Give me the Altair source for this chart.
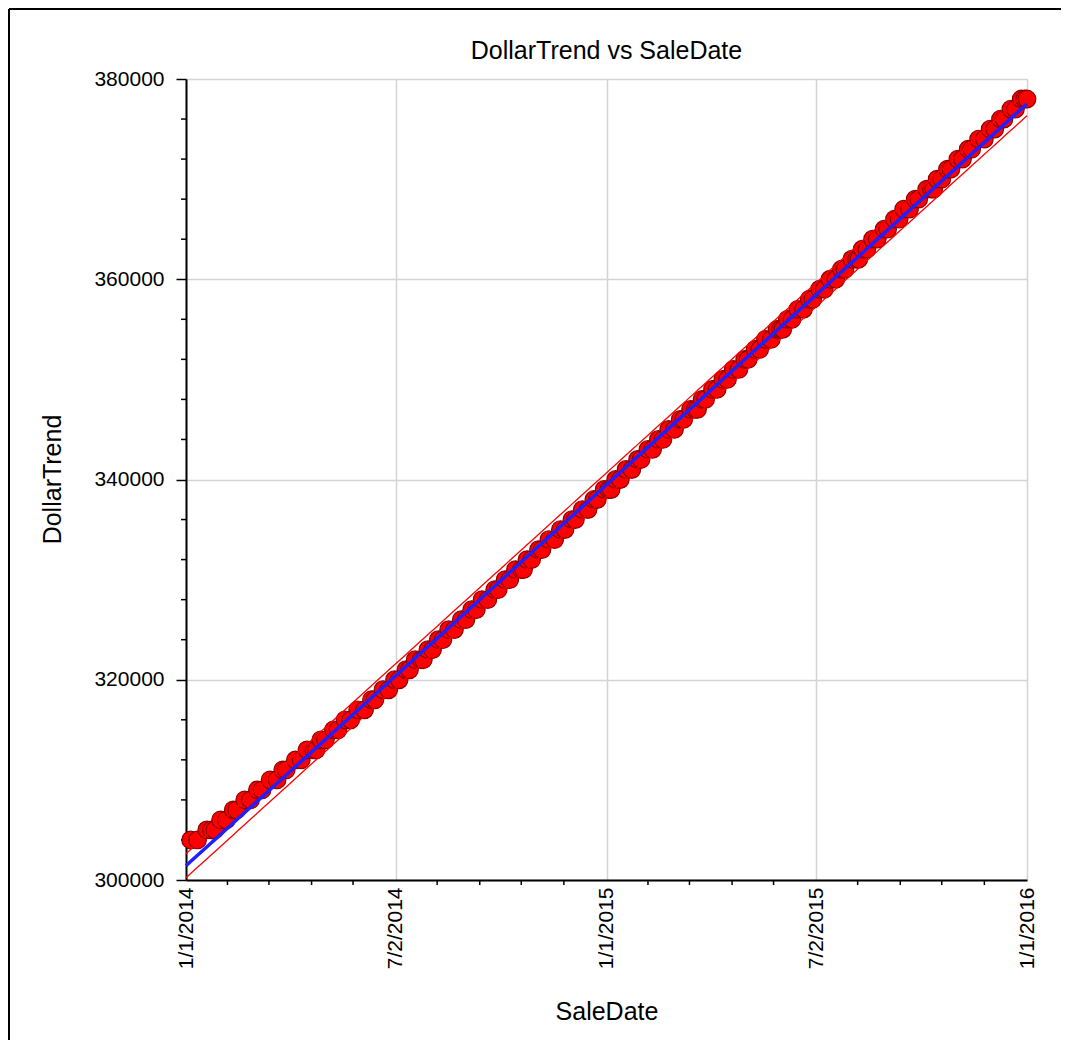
import altair as alt
import numpy as np
import pandas as pd

# ---- data ----
sale_dates = [
    "2014-01-05", "2014-01-11",
    "2014-01-19", "2014-01-23", "2014-01-26",
    "2014-01-31", "2014-02-05",
    "2014-02-11", "2014-02-14",
    "2014-02-21", "2014-02-26",
    "2014-03-04", "2014-03-08",
    "2014-03-15", "2014-03-21",
    "2014-03-26", "2014-03-29",
    "2014-04-06", "2014-04-11",
    "2014-04-16", "2014-04-22", "2014-04-24",
    "2014-04-28", "2014-05-02",
    "2014-05-09", "2014-05-13",
    "2014-05-19", "2014-05-24",
    "2014-05-30", "2014-06-05",
    "2014-06-11", "2014-06-14",
    "2014-06-21", "2014-06-26",
    "2014-07-01", "2014-07-05",
    "2014-07-11", "2014-07-14",
    "2014-07-19", "2014-07-24", "2014-07-26",
    "2014-07-30", "2014-08-03",
    "2014-08-08", "2014-08-12",
    "2014-08-17", "2014-08-22",
    "2014-08-28", "2014-09-01",
    "2014-09-06", "2014-09-10",
    "2014-09-15", "2014-09-20",
    "2014-09-26", "2014-09-29",
    "2014-10-05", "2014-10-09",
    "2014-10-14", "2014-10-19", "2014-10-21",
    "2014-10-24", "2014-10-28",
    "2014-11-03", "2014-11-06",
    "2014-11-12", "2014-11-17",
    "2014-11-22", "2014-11-26",
    "2014-12-02", "2014-12-05",
    "2014-12-11", "2014-12-16",
    "2014-12-21", "2014-12-24",
    "2014-12-30", "2015-01-03", "2015-01-05",
    "2015-01-09", "2015-01-13",
    "2015-01-18", "2015-01-23",
    "2015-01-28", "2015-01-31",
    "2015-02-06", "2015-02-10",
    "2015-02-15", "2015-02-19",
    "2015-02-24", "2015-03-01",
    "2015-03-06", "2015-03-09",
    "2015-03-15", "2015-03-19", "2015-03-21",
    "2015-03-25", "2015-03-28",
    "2015-04-03", "2015-04-07",
    "2015-04-12", "2015-04-16",
    "2015-04-21", "2015-04-26",
    "2015-05-01", "2015-05-04",
    "2015-05-10", "2015-05-14",
    "2015-05-19", "2015-05-24",
    "2015-05-29", "2015-06-01", "2015-06-03",
    "2015-06-07", "2015-06-11",
    "2015-06-16", "2015-06-21",
    "2015-06-26", "2015-06-29",
    "2015-07-05", "2015-07-09",
    "2015-07-14", "2015-07-19",
    "2015-07-24", "2015-07-27",
    "2015-08-02", "2015-08-06", "2015-08-08",
    "2015-08-11", "2015-08-15",
    "2015-08-20", "2015-08-24",
    "2015-08-30", "2015-09-02",
    "2015-09-08", "2015-09-12",
    "2015-09-16", "2015-09-21",
    "2015-09-26", "2015-09-29",
    "2015-10-06", "2015-10-10", "2015-10-12",
    "2015-10-15", "2015-10-19",
    "2015-10-24", "2015-10-27",
    "2015-11-02", "2015-11-06",
    "2015-11-11", "2015-11-14",
    "2015-11-20", "2015-11-25",
    "2015-11-30", "2015-12-04",
    "2015-12-09", "2015-12-12",
    "2015-12-18", "2015-12-22",
    "2015-12-27", "2015-12-30", "2016-01-01",
]

dollar_trend = [
    304000, 304000,
    305000, 305000, 305000,
    306000, 306000,
    307000, 307000,
    308000, 308000,
    309000, 309000,
    310000, 310000,
    311000, 311000,
    312000, 312000,
    313000, 313000, 313000,
    314000, 314000,
    315000, 315000,
    316000, 316000,
    317000, 317000,
    318000, 318000,
    319000, 319000,
    320000, 320000,
    321000, 321000,
    322000, 322000, 322000,
    323000, 323000,
    324000, 324000,
    325000, 325000,
    326000, 326000,
    327000, 327000,
    328000, 328000,
    329000, 329000,
    330000, 330000,
    331000, 331000, 331000,
    332000, 332000,
    333000, 333000,
    334000, 334000,
    335000, 335000,
    336000, 336000,
    337000, 337000,
    338000, 338000,
    339000, 339000, 339000,
    340000, 340000,
    341000, 341000,
    342000, 342000,
    343000, 343000,
    344000, 344000,
    345000, 345000,
    346000, 346000,
    347000, 347000, 347000,
    348000, 348000,
    349000, 349000,
    350000, 350000,
    351000, 351000,
    352000, 352000,
    353000, 353000,
    354000, 354000,
    355000, 355000, 355000,
    356000, 356000,
    357000, 357000,
    358000, 358000,
    359000, 359000,
    360000, 360000,
    361000, 361000,
    362000, 362000, 362000,
    363000, 363000,
    364000, 364000,
    365000, 365000,
    366000, 366000,
    367000, 367000,
    368000, 368000,
    369000, 369000, 369000,
    370000, 370000,
    371000, 371000,
    372000, 372000,
    373000, 373000,
    374000, 374000,
    375000, 375000,
    376000, 376000,
    377000, 377000,
    378000, 378000, 378000,
]

x_major_ticks = ["2014-01-01", "2014-07-02", "2015-01-01", "2015-07-02", "2016-01-01"]
x_minor_ticks = [
    "2014-02-06", "2014-03-14", "2014-04-20", "2014-05-26",
    "2014-08-07", "2014-09-13", "2014-10-19", "2014-11-25",
    "2015-02-06", "2015-03-14", "2015-04-20", "2015-05-26",
    "2015-08-07", "2015-09-13", "2015-10-19", "2015-11-25",
]
y_major_ticks = [300000, 320000, 340000, 360000, 380000]
y_minor_ticks = [304000, 308000, 312000, 316000,
                 324000, 328000, 332000, 336000,
                 344000, 348000, 352000, 356000,
                 364000, 368000, 372000, 376000]

# ---- tables ----
pts = pd.DataFrame({"SaleDate": pd.to_datetime(sale_dates), "DollarTrend": dollar_trend})

# least-squares fit and 95% prediction band
t0 = pd.Timestamp("2014-01-01")
days = (pts["SaleDate"] - t0).dt.days.to_numpy(dtype=float)
yv = pts["DollarTrend"].to_numpy(dtype=float)
n = len(yv)
slope, intercept = np.polyfit(days, yv, 1)
resid = yv - (intercept + slope * days)
s = np.sqrt((resid ** 2).sum() / (n - 2))
xbar = days.mean()
sxx = ((days - xbar) ** 2).sum()
t_crit = 1.976
grid_days = np.unique(np.concatenate([[0.0], days, [730.0]]))
fit_vals = intercept + slope * grid_days
half = t_crit * s * np.sqrt(1 + 1 / n + (grid_days - xbar) ** 2 / sxx)
grid_dates = t0 + pd.to_timedelta(grid_days, unit="D")

fit_df = pd.DataFrame({"SaleDate": grid_dates, "DollarTrend": fit_vals})
band_df = pd.concat([
    pd.DataFrame({"SaleDate": grid_dates, "DollarTrend": fit_vals - half, "band": "lower"}),
    pd.DataFrame({"SaleDate": grid_dates, "DollarTrend": fit_vals + half, "band": "upper"}),
])
xminor_df = pd.DataFrame({"SaleDate": pd.to_datetime(x_minor_ticks)})
yminor_df = pd.DataFrame({"DollarTrend": y_minor_ticks})
one_df = pd.DataFrame({"k": [0]})


def to_dt(s):
    ts = pd.Timestamp(s)
    return alt.DateTime(year=ts.year, month=ts.month, date=ts.day)


FONT = "Liberation Sans"

x_axis = alt.Axis(
    values=[to_dt(v) for v in x_major_ticks],
    labelExpr="timeFormat(datum.value, '%-m/%-d/%Y')",
    labelAngle=-90, labelFont=FONT, labelFontSize=21, labelColor="black",
    labelPadding=7, labelFlush=False, labelOverlap=False, labelBound=False,
    ticks=False,
    domainColor="black", domainWidth=2,
    grid=True, gridColor="#d4d4d4", gridWidth=1.5,
    title="SaleDate", titleFont=FONT, titleFontSize=25, titleFontWeight="normal",
    titleColor="black", titleY=131, titleBaseline="middle",
)
y_axis = alt.Axis(
    values=y_major_ticks, format="d",
    labelFont=FONT, labelFontSize=21, labelColor="black", labelPadding=12,
    labelOverlap=False, labelFlush=False,
    ticks=True, tickSize=10, tickColor="black", tickWidth=1.5,
    domainColor="black", domainWidth=2,
    grid=True, gridColor="#d4d4d4", gridWidth=1.5,
    title="DollarTrend", titleFont=FONT, titleFontSize=25, titleFontWeight="normal",
    titleColor="black", titleX=-134, titleY=400, titleBaseline="middle",
)

x_enc = alt.X("SaleDate:T",
              scale=alt.Scale(domain=[to_dt("2014-01-01"), to_dt("2016-01-01")]),
              axis=x_axis, title="SaleDate")
y_enc = alt.Y("DollarTrend:Q",
              scale=alt.Scale(domain=[300000, 380000], nice=False, zero=False),
              axis=y_axis, title="DollarTrend")

points = alt.Chart(pts).mark_circle(
    size=310, color="#ff0000", opacity=1, stroke="#8b0000", strokeWidth=1.2
).encode(x=x_enc, y=y_enc)

bands = alt.Chart(band_df).mark_line(color="#ff0000", strokeWidth=1.3).encode(
    x=x_enc, y=y_enc, detail="band:N")

fit = alt.Chart(fit_df).mark_line(color="#1f1fff", strokeWidth=3.5).encode(x=x_enc, y=y_enc)

xminor = alt.Chart(xminor_df).mark_rule(color="black", strokeWidth=1.5).encode(
    x=x_enc, y=alt.value(801), y2=alt.value(806))
yminor = alt.Chart(yminor_df).mark_rule(color="black", strokeWidth=1.5).encode(
    y=y_enc, x=alt.value(-5), x2=alt.value(0))

frame_left = alt.Chart(one_df).mark_rule(color="black", strokeWidth=2).encode(
    x=alt.value(-177), y=alt.value(-70), y2=alt.value(1000))
frame_top = alt.Chart(one_df).mark_rule(color="black", strokeWidth=2).encode(
    x=alt.value(-177), x2=alt.value(1100), y=alt.value(-70))

chart = alt.layer(
    xminor, yminor, points, bands, fit, frame_left, frame_top
).properties(
    width=841, height=801,
    autosize=alt.AutoSizeParams(type="none"),
    padding={"left": 178, "top": 71, "right": 34, "bottom": 160},
    title=alt.TitleParams(
        "DollarTrend vs SaleDate", font=FONT, fontSize=25, fontWeight="normal",
        color="black", anchor="middle", frame="group", baseline="middle", offset=-68,
    ),
).configure_view(stroke=None).configure(background="white")

chart.save("out.html", embed_options={"renderer": "svg", "actions": False})
